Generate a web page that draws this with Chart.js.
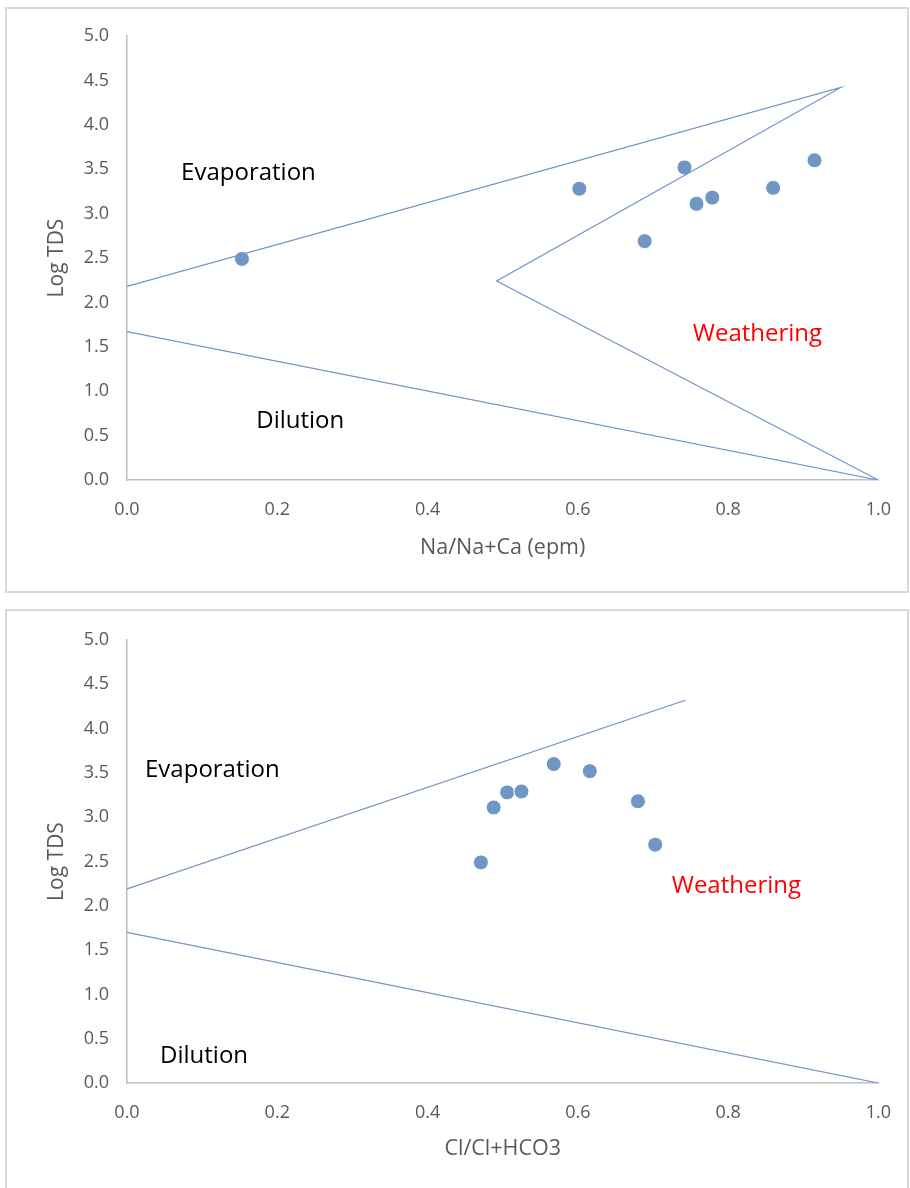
<!DOCTYPE html>
<html>
<head>
<meta charset="utf-8">
<script src="https://cdn.jsdelivr.net/npm/chart.js@4/dist/chart.umd.min.js"></script>
<style>
  body { margin: 0; background: #fff; width: 910px; height: 1188px; overflow: hidden; position: relative; }
  .box { position: absolute; left: 5px; width: 904px; border: 2px solid #d9d9d9; box-sizing: border-box; }
  .wrap { position: absolute; left: 0; width: 910px; }
</style>
</head>
<body>
<div class="box" style="top:7px;height:586px"></div>
<div class="box" style="top:609px;height:600px"></div>
<div class="wrap" style="top:0;height:600px"><canvas id="chartNa"></canvas></div>
<div class="wrap" style="top:600px;height:588px"><canvas id="chartCl"></canvas></div>
<script>
// samples: Log TDS and the two Gibbs ratios
const logTDS   = [2.49, 3.28, 2.69, 3.52, 3.11, 3.18, 3.29, 3.60];
const naRatio  = [0.153, 0.602, 0.689, 0.742, 0.758, 0.779, 0.860, 0.915];
const clRatio  = [0.471, 0.506, 0.703, 0.616, 0.488, 0.680, 0.525, 0.568];

// Gibbs boundary lines
const naBoundX = [0, 0.95, 0.492, 1.0, 0];
const naBoundY = [2.18, 4.42, 2.24, 0, 1.67];
const clUpperX = [0, 0.743];
const clUpperY = [2.19, 4.32];
const clLowerX = [0, 1.0];
const clLowerY = [1.70, 0];

const yTicks = [0, 0.5, 1, 1.5, 2, 2.5, 3, 3.5, 4, 4.5, 5];
const xTicks = [0, 0.2, 0.4, 0.6, 0.8, 1.0];

const FONT = "'Open Sans', sans-serif";
const lineColor = '#6f93c6';
const pointColor = '#7096c4';

function pairs(xs, ys) {
    return xs.map((x, i) => ({ x: x, y: ys[i] }));
}

// writes the Evaporation / Weathering / Dilution captions in data coordinates
const areaLabels = {
    id: 'areaLabels',
    afterDatasetsDraw(chart, args, opts) {
        const ctx = chart.ctx;
        ctx.save();
        ctx.font = '24px ' + FONT;
        ctx.textBaseline = 'middle';
        ctx.textAlign = 'left';
        opts.items.forEach(function(it) {
            ctx.fillStyle = it.color;
            ctx.fillText(it.text, chart.scales.x.getPixelForValue(it.x), chart.scales.y.getPixelForValue(it.y));
        });
        ctx.restore();
    }
};

function createChart(id, boundaries, ratio, xTitle, labels, lay) {
    const datasets = boundaries.map(b => ({
        data: b,
        showLine: true,
        borderColor: lineColor,
        borderWidth: 1.2,
        pointRadius: 0,
        fill: false
    }));
    datasets.push({
        data: pairs(ratio, logTDS),
        backgroundColor: pointColor,
        borderColor: '#ffffff',
        borderWidth: 1,
        pointRadius: 7.5
    });

    return new Chart(document.getElementById(id), {
        type: 'scatter',
        data: { datasets },
        plugins: [areaLabels],
        options: {
            responsive: true,
            maintainAspectRatio: false,
            animation: false,
            layout: { padding: { top: lay.top, right: 31, bottom: lay.bottom, left: 0 } },
            plugins: {
                legend: { display: false },
                tooltip: { enabled: false },
                areaLabels: { items: labels }
            },
            scales: {
                x: {
                    type: 'linear',
                    min: 0,
                    max: 1,
                    afterBuildTicks: s => { s.ticks = xTicks.map(v => ({ value: v })); },
                    afterFit: s => { s.height = lay.xHeight; },
                    grid: { display: false, drawTicks: false },
                    border: { display: true, color: '#bfbfbf', width: 1.5 },
                    ticks: {
                        padding: 19,
                        color: '#595959',
                        font: { family: FONT, size: 18 },
                        callback: v => v.toFixed(1)
                    },
                    title: {
                        display: true,
                        text: xTitle,
                        color: '#595959',
                        font: { family: FONT, size: 21.5 },
                        padding: { top: 0, bottom: lay.titlePad }
                    }
                },
                y: {
                    min: 0,
                    max: 5,
                    afterBuildTicks: s => { s.ticks = yTicks.map(v => ({ value: v })); },
                    afterFit: s => { s.width = 127; },
                    grid: { display: false, drawTicks: false },
                    border: { display: true, color: '#bfbfbf', width: 1.5 },
                    ticks: {
                        padding: 18,
                        color: '#595959',
                        font: { family: FONT, size: 18 },
                        callback: v => v.toFixed(1)
                    },
                    title: {
                        display: true,
                        text: 'Log TDS',
                        color: '#595959',
                        font: { family: FONT, size: 21 },
                        padding: { top: 44, bottom: 0 }
                    }
                }
            }
        }
    });
}

createChart('chartNa',
    [pairs(naBoundX, naBoundY)],
    naRatio,
    'Na/Na+Ca (epm)',
    [
        { text: 'Evaporation', x: 0.072, y: 3.45, color: '#000000' },
        { text: 'Weathering', x: 0.753, y: 1.64, color: '#ff0000' },
        { text: 'Dilution', x: 0.172, y: 0.66, color: '#000000' }
    ],
    { top: 36, bottom: 8, xHeight: 112, titlePad: 31 });

createChart('chartCl',
    [pairs(clUpperX, clUpperY), pairs(clLowerX, clLowerY)],
    clRatio,
    'Cl/Cl+HCO3',
    [
        { text: 'Evaporation', x: 0.024, y: 3.53, color: '#000000' },
        { text: 'Weathering', x: 0.725, y: 2.22, color: '#ff0000' },
        { text: 'Dilution', x: 0.044, y: 0.30, color: '#000000' }
    ],
    { top: 40, bottom: 0, xHeight: 105, titlePad: 26 });
</script>
</body>
</html>
